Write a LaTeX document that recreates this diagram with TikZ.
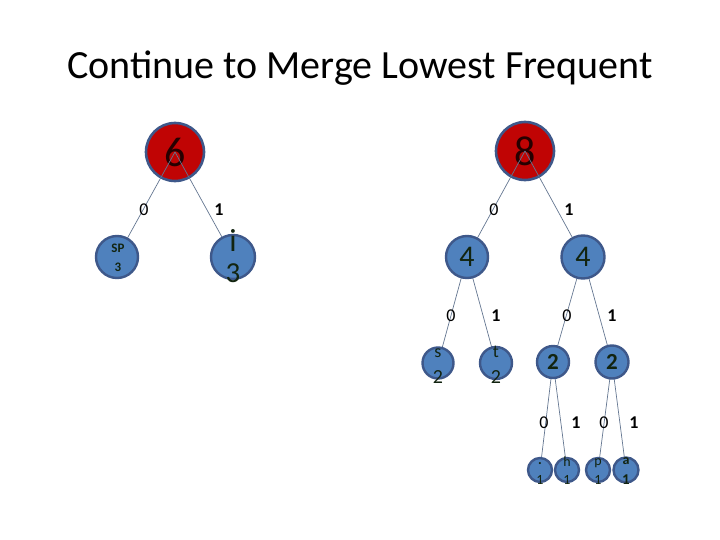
\documentclass[tikz,border=0pt]{standalone}
\usepackage{fontspec}
\setmainfont{Carlito}
\pgfdeclarelayer{bg}
\pgfdeclarelayer{mid}
\pgfsetlayers{bg,mid,main}
\definecolor{rootfill}{RGB}{192,4,4}
\definecolor{nodefill}{RGB}{79,129,189}
\definecolor{rim}{RGB}{62,88,138}
\definecolor{edgecol}{RGB}{100,118,145}
\definecolor{ink}{RGB}{18,36,16}
\tikzset{
  rootnode/.style={circle,fill=rootfill,draw=rim,line width=2.6pt,minimum size=#1,inner sep=0pt},
  leafnode/.style={circle,fill=nodefill,draw=rim,line width=2.4pt,minimum size=#1,inner sep=0pt},
  txt/.style={inner sep=0pt,text=ink},
  bit/.style={inner sep=0pt,font=\fontsize{18}{18}\selectfont,text=black},
  bitone/.style={inner sep=0pt,font=\fontsize{18}{18}\bfseries\selectfont,text=black},
  edge/.style={draw=edgecol,line width=0.7pt}
}
\begin{document}
\begin{tikzpicture}[x=1pt,y=-1pt]
\useasboundingbox (0,0) rectangle (720,540);
\node[inner sep=0pt,font=\fontsize{40}{40}\selectfont] (title) at (360,68) {Continue to Merge Lowest Frequent};
% roots (bottom layer)
\begin{pgfonlayer}{bg}
\node[rootnode=58pt,font=\fontsize{42}{42}\selectfont,text=black!85!red] (n6) at (175,152) {6};
\node[rootnode=58pt,font=\fontsize{42}{42}\selectfont,text=black!85!red] (n8) at (525,151) {8};
\end{pgfonlayer}
% blue nodes
\node[leafnode=42pt] (nsp) at (117,257) {};
\node[leafnode=44pt] (ni) at (233,257) {};
\node[leafnode=42pt,font=\fontsize{30}{30}\selectfont,text=ink] (n4a) at (467,257) {4};
\node[leafnode=43pt,font=\fontsize{30}{30}\selectfont,text=ink] (n4b) at (583,257) {4};
\node[leafnode=31pt] (ns) at (438,363) {};
\node[leafnode=32pt] (nt) at (496,363) {};
\node[leafnode=32pt,font=\fontsize{23}{23}\bfseries\selectfont,text=ink] (n2a) at (553,362) {2};
\node[leafnode=33pt,font=\fontsize{23}{23}\bfseries\selectfont,text=ink] (n2b) at (612,362) {2};
\node[leafnode=24pt] (ndot) at (540,470) {};
\node[leafnode=24pt] (nh) at (567,470) {};
\node[leafnode=24pt] (np) at (598,470) {};
\node[leafnode=25pt] (na) at (626,470) {};
% texts inside nodes
\node[txt,font=\fontsize{13}{13}\bfseries\selectfont] (tsp) at (118,248) {SP};
\node[txt,font=\fontsize{13}{13}\bfseries\selectfont] (tsp3) at (118,267) {3};
\node[txt,font=\fontsize{32}{32}\selectfont] (ti) at (233,240) {i};
\node[txt,font=\fontsize{29}{29}\selectfont] (ti3) at (233,273) {3};
\node[txt,font=\fontsize{18}{18}\selectfont] (ts) at (438,353) {s};
\node[txt,font=\fontsize{20}{20}\selectfont] (ts2) at (438,377) {2};
\node[txt,font=\fontsize{18}{18}\selectfont] (tt) at (496,352) {t};
\node[txt,font=\fontsize{20}{20}\selectfont] (tt2) at (496,377) {2};
\node[txt,font=\fontsize{14}{14}\bfseries\selectfont] (tdot) at (540,464) {.};
\node[txt,font=\fontsize{14}{14}\selectfont] (tdot1) at (540,480) {1};
\node[txt,font=\fontsize{14}{14}\selectfont] (th) at (567,462) {h};
\node[txt,font=\fontsize{14}{14}\selectfont] (th1) at (567,480) {1};
\node[txt,font=\fontsize{14}{14}\selectfont] (tp) at (598,463) {p};
\node[txt,font=\fontsize{14}{14}\selectfont] (tp1) at (598,480) {1};
\node[txt,font=\fontsize{14}{14}\bfseries\selectfont] (ta) at (626,461) {a};
\node[txt,font=\fontsize{15}{15}\bfseries\selectfont] (ta1) at (626,480) {1};
% edges (between roots and blue nodes)
\begin{pgfonlayer}{mid}
\draw[edge] (n6.center) -- (nsp.center);
\draw[edge] (n6.center) -- (ni.center);
\draw[edge] (n8.center) -- (n4a.center);
\draw[edge] (n8.center) -- (n4b.center);
\draw[edge] (n4a.center) -- (ns.center);
\draw[edge] (n4a.center) -- (nt.center);
\draw[edge] (n4b.center) -- (n2a.center);
\draw[edge] (n4b.center) -- (n2b.center);
\draw[edge] (n2a.center) -- (ndot.center);
\draw[edge] (n2a.center) -- (nh.center);
\draw[edge] (n2b.center) -- (np.center);
\draw[edge] (n2b.center) -- (na.center);
\end{pgfonlayer}
% edge labels
\node[bit] (b60) at (144,210) {0};
\node[bitone] (b61) at (219,210) {1};
\node[bit] (b80) at (494,210) {0};
\node[bitone] (b81) at (569,210) {1};
\node[bit] (b4a0) at (451,316) {0};
\node[bitone] (b4a1) at (496,316) {1};
\node[bit] (b4b0) at (567,316) {0};
\node[bitone] (b4b1) at (612,316) {1};
\node[bit] (b2a0) at (544,423) {0};
\node[bitone] (b2a1) at (576,423) {1};
\node[bit] (b2b0) at (604,423) {0};
\node[bitone] (b2b1) at (634,423) {1};
\end{tikzpicture}
\end{document}
